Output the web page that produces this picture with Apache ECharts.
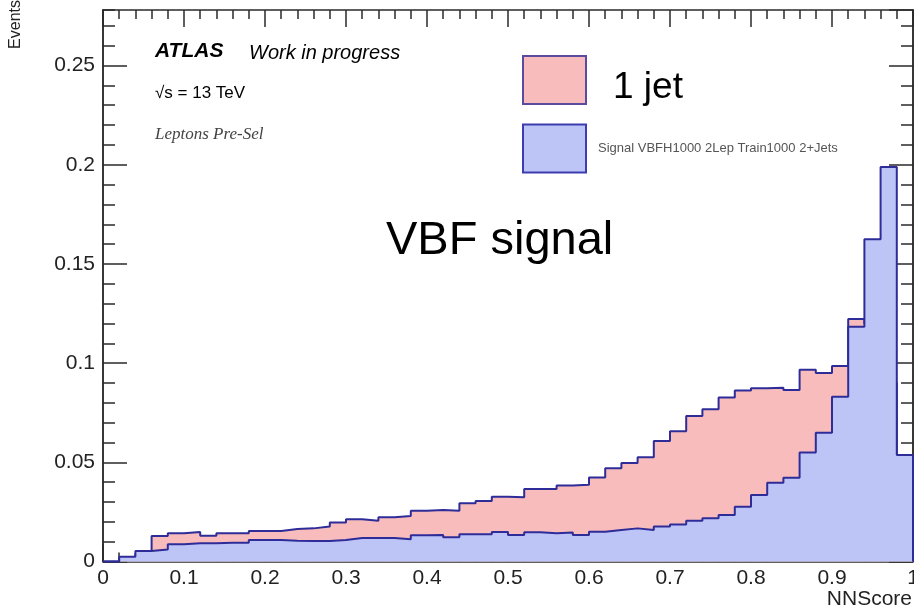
<!DOCTYPE html>
<html><head><meta charset="utf-8">
<script src="https://cdn.jsdelivr.net/npm/echarts@6/dist/echarts.min.js"></script>
<style>html,body{margin:0;padding:0;background:#fff}#c{width:914px;height:610px}</style>
</head><body><div id="c"></div>
<script>
// ---- data ----
const binEdges = [0, 0.02, 0.04, 0.06, 0.08, 0.1, 0.12, 0.14, 0.16, 0.18, 0.2, 0.22, 0.24, 0.26, 0.28, 0.3, 0.32, 0.34, 0.36, 0.38, 0.4, 0.42, 0.44, 0.46, 0.48, 0.5, 0.52, 0.54, 0.56, 0.58, 0.6, 0.62, 0.64, 0.66, 0.68, 0.7, 0.72, 0.74, 0.76, 0.78, 0.8, 0.82, 0.84, 0.86, 0.88, 0.9, 0.92, 0.94, 0.96, 0.98, 1.0];
const oneJet = [0, 0.0015, 0.004, 0.0129, 0.0142, 0.0149, 0.0130, 0.0142, 0.0142, 0.0154,
  0.0154, 0.0164, 0.0167, 0.0176, 0.0196, 0.0213, 0.0206, 0.0223, 0.0229, 0.0256,
  0.0260, 0.0256, 0.0293, 0.0305, 0.0327, 0.0324, 0.0365, 0.0365, 0.0383, 0.0387,
  0.0424, 0.0470, 0.0497, 0.0525, 0.0607, 0.0656, 0.0733, 0.0767, 0.0827, 0.0862,
  0.0873, 0.0876, 0.0864, 0.0967, 0.0950, 0.0985, 0.1222, 0.1200, 0.0900, 0.0300];
const signal2Jets = [0, 0.0024, 0.0053, 0.0061, 0.0087, 0.0092, 0.0092, 0.0095, 0.0095, 0.0108,
  0.0108, 0.0105, 0.0103, 0.0103, 0.0108, 0.0118, 0.0118, 0.0118, 0.0112, 0.0132,
  0.0134, 0.0122, 0.0137, 0.0137, 0.0149, 0.0134, 0.0147, 0.0142, 0.0146, 0.0134,
  0.0150, 0.0159, 0.0167, 0.0159, 0.0176, 0.0187, 0.0206, 0.0218, 0.0234, 0.0276,
  0.0335, 0.0397, 0.0422, 0.0549, 0.0649, 0.0831, 0.1183, 0.1625, 0.1988, 0.0537];
const seriesNames = ['1 jet', 'Signal VBFH1000 2Lep Train1000 2+Jets'];
const xRange = [0, 1];
const yRange = [0, 0.278];
const xMajor = 0.1, yMajor = 0.05, yMinor = 0.01;

// ---- style ----
const outline = '#2e2c98';
const redFill = '#f8bcbc';
const blueFill = '#bcc5f6';
const axisColor = '#2a2a2a';
const FONT = '"Liberation Sans", Arial, sans-serif';

function histPoints(vals) {
  const pts = [[binEdges[0], 0]];
  vals.forEach((v, i) => pts.push([binEdges[i], v]));
  const n = vals.length;
  pts.push([binEdges[n], vals[n - 1]]);
  pts.push([binEdges[n], 0]);
  return pts;
}

const lineS = {color: axisColor, width: 1.5};
function xAxisDef(pos, labels) {
  return {
    type: 'value', min: xRange[0], max: xRange[1], interval: xMajor, position: pos,
    axisLine: {show: true, onZero: false, lineStyle: lineS},
    axisTick: {show: true, inside: true, length: 17, lineStyle: lineS},
    minorTick: {show: true, splitNumber: 5, length: 9, lineStyle: lineS},
    splitLine: {show: false}, minorSplitLine: {show: false},
    axisLabel: {show: labels, fontSize: 21, color: '#222', margin: 6, fontFamily: FONT}
  };
}
function yAxisDef(pos, interval, len, labels) {
  return {
    type: 'value', min: yRange[0], max: yRange[1], interval: interval, position: pos,
    axisLine: {show: true, onZero: false, lineStyle: lineS},
    axisTick: {show: true, inside: true, length: len, lineStyle: lineS},
    splitLine: {show: false},
    axisLabel: {show: labels, fontSize: 21, color: '#222', margin: 8, fontFamily: FONT,
      showMaxLabel: false}
  };
}

const chart = echarts.init(document.getElementById('c'), null, {renderer: 'canvas'});
chart.setOption({
  animation: false,
  backgroundColor: '#fff',
  textStyle: {fontFamily: FONT},
  grid: {left: 103, right: 1, top: 10, bottom: 48.5, containLabel: false, outerBoundsMode: 'none'},
  xAxis: [xAxisDef('bottom', true), xAxisDef('top', false)],
  yAxis: [yAxisDef('left', yMajor, 24, true), yAxisDef('left', yMinor, 12, false),
          yAxisDef('right', yMajor, 24, false), yAxisDef('right', yMinor, 12, false)],
  legend: {
    orient: 'vertical', left: 522, top: 55, padding: 0, itemWidth: 63, itemHeight: 48, itemGap: 17,
    icon: 'rect', selectedMode: false,
    formatter: function (name) { return name === seriesNames[0] ? '{j|' + name + '}' : name; },
    textStyle: {fontFamily: FONT, rich: {j: {fontSize: 37, color: '#000', fontFamily: FONT}}},
    data: [
      {name: seriesNames[0], itemStyle: {color: redFill, borderColor: '#5c4aa0', borderWidth: 2},
       textStyle: {fontSize: 37, color: '#000', padding: [16, 0, 0, 22], fontFamily: FONT}},
      {name: seriesNames[1], itemStyle: {color: blueFill, borderColor: '#3d3db0', borderWidth: 2},
       textStyle: {fontSize: 13, color: '#555', padding: [0, 0, 0, 7], fontFamily: FONT}}
    ]
  },
  series: [
    {type: 'line', name: seriesNames[0], xAxisIndex: 0, yAxisIndex: 0, step: 'end',
     data: histPoints(oneJet), symbol: 'none', showSymbol: false, z: 2,
     lineStyle: {color: outline, width: 2}, itemStyle: {color: redFill},
     areaStyle: {color: redFill, opacity: 1}, emphasis: {disabled: true}},
    {type: 'line', name: seriesNames[1], xAxisIndex: 0, yAxisIndex: 0, step: 'end',
     data: histPoints(signal2Jets), symbol: 'none', showSymbol: false, z: 3,
     lineStyle: {color: outline, width: 2}, itemStyle: {color: blueFill},
     areaStyle: {color: blueFill, opacity: 1}, emphasis: {disabled: true}}
  ],
  graphic: [
    {type: 'text', x: 155, y: 51, style: {text: 'ATLAS', font: 'italic bold 21px ' + FONT, fill: '#000', align: 'left', verticalAlign: 'middle'}},
    {type: 'text', x: 249, y: 53, style: {text: 'Work in progress', font: 'italic 20px ' + FONT, fill: '#000', align: 'left', verticalAlign: 'middle'}},
    {type: 'text', x: 155, y: 93, style: {text: '√s = 13 TeV', font: '17px ' + FONT, fill: '#000', align: 'left', verticalAlign: 'middle'}},
    {type: 'text', x: 155, y: 135, style: {text: 'Leptons Pre-Sel', font: 'italic 17px "Liberation Serif", serif', fill: '#444', align: 'left', verticalAlign: 'middle'}},
    {type: 'text', x: 386, y: 241, style: {text: 'VBF signal', font: '47px ' + FONT, fill: '#000', align: 'left', verticalAlign: 'middle'}},
    {type: 'text', x: 912, y: 599, style: {text: 'NNScore', font: '21px ' + FONT, fill: '#222', align: 'right', verticalAlign: 'middle'}},
    {type: 'text', x: 16, y: 0, rotation: Math.PI / 2, style: {text: 'Events', font: '16px ' + FONT, fill: '#222', align: 'right', verticalAlign: 'middle'}}
  ]
});
</script></body></html>
